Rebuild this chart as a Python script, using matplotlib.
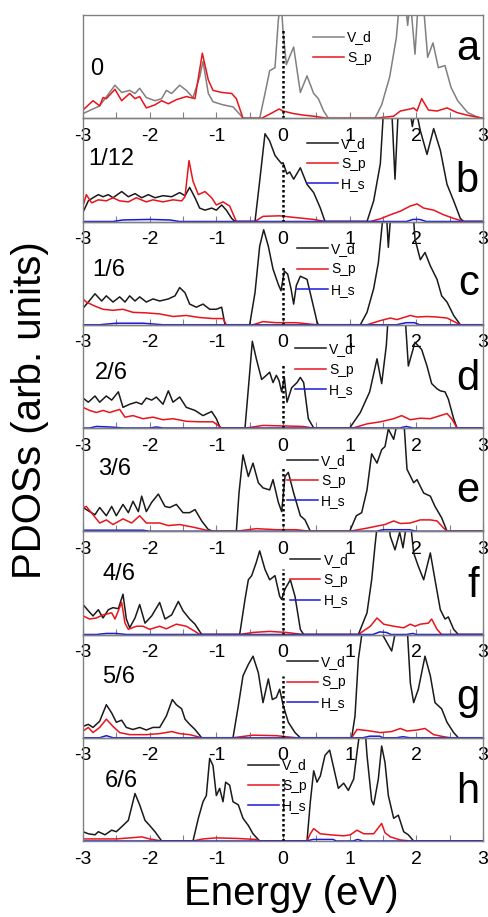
import matplotlib
matplotlib.use("Agg")
import matplotlib.pyplot as plt
from matplotlib.ticker import MultipleLocator

# PDOS: (energy in eV, height in % of panel)
vd_a = [(-3.0, 4.5), (-2.85, 9), (-2.75, 12), (-2.67, 19), (-2.52, 32), (-2.42, 25), (-2.3, 27), (-2.22, 24),
        (-2.15, 29), (-2.05, 20), (-1.92, 17), (-1.82, 19), (-1.75, 27), (-1.67, 24), (-1.55, 32), (-1.45, 27),
        (-1.35, 20), (-1.25, 40), (-1.2, 55), (-1.12, 24), (-1.05, 16), (-0.9, 13), (-0.75, 11), (-0.65, 4), (-0.6, 0),
        (-0.35, 0), (-0.27, 24), (-0.2, 46), (-0.12, 49), (-0.07, 95), (-0.03, 115), (0.0, 85), (0.05, 52),
        (0.16, 69), (0.26, 25), (0.36, 41), (0.46, 24), (0.53, 19), (0.61, 7), (0.68, 0),
        (1.38, 0), (1.48, 13), (1.6, 40), (1.7, 78), (1.75, 115), (1.83, 115), (1.87, 90), (1.91, 115), (1.98, 62),
        (2.03, 115), (2.1, 115), (2.17, 59), (2.25, 73), (2.33, 49), (2.43, 51), (2.52, 30), (2.62, 17),
        (2.77, 5.5), (2.92, 1), (3.0, 0)]
sp_a = [(-3.0, 8), (-2.85, 17), (-2.75, 12), (-2.7, 20), (-2.65, 19), (-2.52, 28), (-2.42, 17), (-2.3, 24),
        (-2.22, 19), (-2.15, 21), (-2.05, 10), (-1.92, 13), (-1.82, 17), (-1.72, 14), (-1.6, 18), (-1.45, 21),
        (-1.32, 19), (-1.21, 63), (-1.12, 37), (-1.05, 27), (-0.92, 25), (-0.77, 24), (-0.7, 19), (-0.6, 0),
        (-0.32, 0), (-0.17, 5), (-0.06, 9), (0.0, 7), (0.16, 4.5), (0.31, 3), (0.46, 2), (0.66, 0),
        (1.38, 0), (1.66, 2), (1.76, 7), (1.91, 9), (1.96, 10), (2.01, 7), (2.08, 19), (2.18, 8), (2.31, 7),
        (2.46, 10), (2.61, 5.5), (2.76, 3), (2.96, 0.5), (3.0, 0)]

vd_b = [(-3.0, 9), (-2.92, 20), (-2.85, 23), (-2.77, 26), (-2.7, 24), (-2.62, 26), (-2.55, 23), (-2.42, 29),
        (-2.32, 24), (-2.22, 27), (-2.12, 23), (-2.02, 26), (-1.92, 23), (-1.8, 25), (-1.67, 24), (-1.55, 28),
        (-1.47, 25), (-1.4, 33), (-1.32, 23), (-1.25, 13), (-1.17, 11), (-1.07, 13), (-1.0, 11), (-0.92, 16),
        (-0.85, 11), (-0.77, 3), (-0.72, 0),
        (-0.42, 0), (-0.35, 39), (-0.27, 85), (-0.2, 78), (-0.12, 64), (-0.06, 59), (-0.02, 56), (0.0, 57),
        (0.06, 46), (0.1, 48), (0.16, 41), (0.26, 52), (0.36, 36), (0.46, 28), (0.56, 13), (0.63, 0),
        (1.26, 0), (1.36, 20), (1.46, 56), (1.51, 110), (1.63, 110), (1.68, 41), (1.73, 110), (1.9, 110),
        (1.94, 92), (1.99, 110), (2.06, 88), (2.16, 65), (2.26, 90), (2.36, 69), (2.46, 36), (2.56, 20),
        (2.66, 3), (2.71, 0), (3.0, 0)]
sp_b = [(-3.0, 15), (-2.95, 26), (-2.87, 18), (-2.77, 21), (-2.65, 20), (-2.55, 23), (-2.45, 20), (-2.32, 19),
        (-2.2, 23), (-2.05, 19), (-1.95, 21), (-1.8, 19), (-1.65, 21), (-1.52, 20), (-1.47, 24), (-1.41, 59),
        (-1.35, 39), (-1.27, 26), (-1.17, 29), (-1.07, 23), (-1.0, 16), (-0.9, 19), (-0.8, 15), (-0.7, 0),
        (-0.42, 0), (-0.3, 5), (-0.05, 5.5), (0.16, 4), (0.46, 2), (0.63, 0),
        (1.31, 0), (1.46, 2.6), (1.61, 6.5), (1.76, 10), (1.91, 15), (2.01, 17), (2.11, 13), (2.26, 11),
        (2.41, 6.5), (2.56, 3), (2.71, 0), (3.0, 0)]
hs_b = [(-3.0, 0), (-2.55, 0), (-2.4, 1.5), (-2.0, 2), (-1.7, 1.5), (-1.55, 0), (1.85, 0), (1.95, 2),
        (2.05, 2), (2.15, 0), (3.0, 0)]

vd_c = [(-3.0, 16), (-2.92, 22), (-2.82, 30), (-2.72, 23), (-2.65, 28), (-2.55, 22), (-2.45, 27), (-2.37, 22),
        (-2.3, 28), (-2.22, 23), (-2.15, 27), (-2.05, 22), (-1.95, 25), (-1.85, 23), (-1.72, 25), (-1.62, 28),
        (-1.55, 36), (-1.47, 31), (-1.4, 20), (-1.3, 17), (-1.2, 20), (-1.1, 15), (-1.0, 15), (-0.92, 17), (-0.87, 0),
        (-0.5, 0), (-0.42, 31), (-0.35, 76), (-0.29, 92), (-0.22, 76), (-0.15, 54), (-0.07, 39), (-0.03, 33),
        (0.02, 52), (0.07, 49), (0.12, 35), (0.16, 20), (0.2, 38), (0.26, 47), (0.36, 44), (0.43, 25),
        (0.51, 3), (0.53, 0),
        (1.16, 0), (1.26, 12), (1.36, 35), (1.43, 60), (1.5, 105), (1.55, 110), (1.58, 75), (1.62, 110),
        (1.95, 110), (1.98, 83), (2.06, 63), (2.13, 70), (2.21, 57), (2.31, 44), (2.38, 28), (2.46, 22),
        (2.56, 9), (2.66, 0), (3.0, 0)]
sp_c = [(-3.0, 25), (-2.95, 22), (-2.82, 18), (-2.7, 15), (-2.55, 14), (-2.4, 15), (-2.25, 12), (-2.05, 11.5),
        (-1.85, 10.5), (-1.65, 8), (-1.45, 9), (-1.25, 7), (-1.05, 6), (-0.9, 6), (-0.85, 0),
        (-0.45, 0), (-0.3, 3), (-0.1, 2), (0.2, 2), (0.5, 0),
        (1.26, 0), (1.46, 4), (1.61, 6.5), (1.71, 5), (1.91, 9), (2.01, 7.5), (2.16, 8), (2.31, 7.5),
        (2.46, 6.5), (2.66, 0), (3.0, 0)]
hs_c = [(-3.0, 0), (-2.75, 0), (-2.5, 1.5), (-2.1, 1.5), (-1.8, 0), (1.7, 0), (1.85, 2), (1.97, 2),
        (2.05, 0), (3.0, 0)]

vd_d = [(-3.0, 29), (-2.92, 25), (-2.82, 31), (-2.75, 25), (-2.65, 31), (-2.57, 27), (-2.47, 35), (-2.4, 20),
        (-2.3, 23), (-2.2, 25), (-2.12, 23), (-2.05, 29), (-1.97, 27), (-1.9, 30), (-1.8, 23), (-1.72, 36),
        (-1.65, 25), (-1.55, 30), (-1.45, 20), (-1.32, 17), (-1.2, 12), (-1.07, 16), (-1.0, 9), (-0.94, 0),
        (-0.57, 0), (-0.52, 38), (-0.46, 84), (-0.4, 67), (-0.32, 47), (-0.25, 51), (-0.2, 54), (-0.15, 44),
        (-0.1, 51), (-0.06, 46), (-0.02, 35), (0.02, 49), (0.06, 25), (0.13, 39), (0.21, 44), (0.26, 49),
        (0.31, 44), (0.38, 9), (0.46, 0),
        (1.0, 0), (1.16, 15), (1.3, 35), (1.41, 67), (1.48, 43), (1.55, 80), (1.58, 110), (1.83, 110),
        (1.88, 60), (1.98, 83), (2.08, 76), (2.16, 60), (2.23, 43), (2.31, 38), (2.36, 36), (2.43, 35),
        (2.48, 28), (2.56, 9), (2.61, 0), (3.0, 0)]
sp_d = [(-3.0, 20), (-2.9, 17), (-2.8, 15), (-2.7, 17), (-2.6, 15), (-2.45, 18), (-2.37, 10.5), (-2.25, 12),
        (-2.1, 9), (-1.95, 10.5), (-1.8, 8), (-1.65, 9), (-1.45, 6.5), (-1.25, 6), (-1.05, 6), (-0.92, 0),
        (-0.55, 0), (-0.3, 2.5), (0.0, 2), (0.3, 1.5), (0.45, 0),
        (1.05, 0), (1.26, 4), (1.46, 6), (1.66, 9), (1.78, 12), (1.91, 8), (2.06, 9.5), (2.21, 9), (2.36, 12),
        (2.46, 14), (2.53, 9), (2.61, 0), (3.0, 0)]
hs_d = [(-3.0, 0), (-2.9, 0), (-2.8, 1.5), (-2.6, 1), (-2.4, 0), (-2.0, 0), (-1.9, 1), (-1.8, 0), (1.75, 0),
        (1.85, 1.5), (1.95, 0), (3.0, 0)]

vd_e = [(-3.0, 23), (-2.9, 19), (-2.82, 16), (-2.75, 23), (-2.65, 15), (-2.57, 24), (-2.5, 15), (-2.4, 26),
        (-2.32, 18), (-2.25, 29), (-2.17, 19), (-2.12, 34), (-2.05, 19), (-1.97, 28), (-1.87, 36), (-1.77, 24),
        (-1.7, 23), (-1.6, 26), (-1.5, 18), (-1.4, 18), (-1.32, 21), (-1.22, 10), (-1.12, 1.6), (-1.05, 0),
        (-0.7, 0), (-0.66, 37), (-0.6, 74), (-0.52, 53), (-0.45, 66), (-0.37, 47), (-0.3, 42), (-0.2, 40),
        (-0.15, 50), (-0.07, 28), (-0.02, 19), (0.03, 53), (0.08, 57), (0.16, 37), (0.26, 15), (0.33, 11), (0.41, 0),
        (1.0, 0), (1.1, 15), (1.18, 18), (1.26, 40), (1.33, 75), (1.41, 66), (1.48, 79), (1.53, 82), (1.58, 99),
        (1.66, 89), (1.73, 110), (1.81, 110), (1.86, 60), (1.96, 47), (2.01, 50), (2.11, 37), (2.21, 34),
        (2.28, 24), (2.38, 13), (2.46, 0), (3.0, 0)]
sp_e = [(-3.0, 23), (-2.95, 24), (-2.85, 16), (-2.75, 8), (-2.65, 11), (-2.55, 6.5), (-2.4, 12), (-2.27, 8),
        (-2.15, 15), (-2.05, 8), (-1.85, 8), (-1.72, 5.5), (-1.55, 6.5), (-1.35, 4), (-1.15, 1), (-1.07, 0),
        (-0.7, 0), (-0.4, 2.5), (-0.1, 1.5), (0.2, 1.5), (0.4, 0),
        (1.0, 0), (1.26, 3), (1.41, 5), (1.53, 6.5), (1.66, 10), (1.76, 7.5), (1.91, 8), (2.06, 11), (2.21, 11),
        (2.31, 10), (2.41, 3), (2.46, 0), (3.0, 0)]
hs_e = [(-3.0, 1), (-2.5, 1), (-2.1, 1), (-2.0, 0), (1.4, 0), (1.5, 1.5), (1.9, 1.5), (2.0, 0), (3.0, 0)]

vd_f = [(-3.0, 29), (-2.92, 23), (-2.85, 18), (-2.77, 24), (-2.7, 16), (-2.62, 24), (-2.55, 26), (-2.47, 25),
        (-2.4, 39), (-2.35, 15), (-2.3, 6.5), (-2.22, 16), (-2.15, 29), (-2.07, 11), (-1.97, 18), (-1.85, 31),
        (-1.77, 15), (-1.67, 19), (-1.57, 32), (-1.5, 23), (-1.4, 15), (-1.32, 10), (-1.22, 0),
        (-0.65, 0), (-0.57, 34), (-0.52, 53), (-0.47, 57), (-0.4, 70), (-0.35, 81), (-0.27, 63), (-0.2, 53),
        (-0.12, 57), (-0.05, 37), (-0.02, 34), (0.03, 44), (0.11, 53), (0.18, 37), (0.26, 5), (0.31, 0),
        (1.13, 0), (1.26, 21), (1.33, 53), (1.38, 86), (1.42, 110), (1.58, 110), (1.61, 95), (1.68, 82),
        (1.75, 99), (1.8, 84), (1.86, 110), (1.91, 110), (1.96, 79), (2.03, 66), (2.11, 53), (2.21, 79),
        (2.28, 53), (2.36, 24), (2.43, 15), (2.48, 17), (2.56, 5), (2.63, 0), (3.0, 0)]
sp_f = [(-3.0, 18), (-2.9, 15), (-2.8, 16), (-2.7, 19), (-2.57, 21), (-2.52, 15), (-2.42, 31), (-2.37, 11),
        (-2.32, 5), (-2.2, 8), (-2.1, 8), (-2.0, 5), (-1.85, 8), (-1.75, 5.5), (-1.6, 10), (-1.45, 8),
        (-1.32, 3), (-1.25, 0),
        (-0.65, 0), (-0.45, 2), (-0.2, 3), (0.05, 2), (0.3, 0),
        (1.13, 0), (1.31, 8), (1.41, 16), (1.51, 10), (1.66, 8), (1.81, 6.5), (1.91, 10), (1.98, 8), (2.06, 10),
        (2.18, 11), (2.23, 15), (2.31, 5), (2.38, 0), (3.0, 0)]
hs_f = [(-3.0, 0), (-2.8, 0), (-2.65, 1), (-2.5, 1), (-2.35, 0), (1.35, 0), (1.45, 2.5), (1.55, 2), (1.62, 0),
        (1.85, 0), (1.95, 1), (2.0, 0), (3.0, 0)]

vd_g = [(-3.0, 11), (-2.92, 13), (-2.85, 10), (-2.75, 16), (-2.65, 32), (-2.57, 24), (-2.5, 15), (-2.42, 17),
        (-2.35, 10), (-2.25, 8), (-2.15, 10), (-2.05, 7.5), (-1.95, 10), (-1.85, 10), (-1.75, 21), (-1.66, 37),
        (-1.6, 32), (-1.52, 28), (-1.47, 18), (-1.4, 13), (-1.32, 8), (-1.22, 0),
        (-0.75, 0), (-0.67, 31), (-0.6, 60), (-0.52, 71), (-0.45, 79), (-0.37, 63), (-0.3, 34), (-0.22, 57),
        (-0.16, 37), (-0.1, 39), (-0.05, 47), (0.0, 32), (0.08, 15), (0.18, 5), (0.26, 0),
        (1.03, 0), (1.08, 21), (1.13, 76), (1.18, 99), (1.21, 110), (1.43, 110), (1.5, 99), (1.63, 84),
        (1.71, 110), (1.86, 110), (1.91, 53), (1.96, 34), (2.03, 47), (2.13, 79), (2.21, 60), (2.28, 34),
        (2.38, 28), (2.46, 15), (2.56, 5), (2.63, 0), (3.0, 0)]
sp_g = [(-3.0, 6.5), (-2.92, 10), (-2.85, 5), (-2.75, 10), (-2.65, 18), (-2.55, 11), (-2.45, 5), (-2.3, 3),
        (-2.05, 3), (-1.85, 4), (-1.67, 6), (-1.55, 4), (-1.4, 3), (-1.22, 0),
        (-0.75, 0), (-0.45, 2.5), (-0.1, 2), (0.2, 0),
        (1.03, 0), (1.11, 8), (1.26, 7), (1.46, 5), (1.63, 6), (1.76, 9), (1.86, 6.5), (2.01, 7.5), (2.13, 9),
        (2.26, 3), (2.41, 1), (2.51, 0), (3.0, 0)]
hs_g = [(-3.0, 0), (-2.75, 0), (-2.65, 2), (-2.55, 0), (1.2, 0), (1.3, 1.5), (1.45, 1.5), (1.5, 0), (1.7, 0),
        (1.8, 1), (1.9, 0), (3.0, 0)]

vd_h = [(-3.0, 9), (-2.92, 7), (-2.82, 6), (-2.77, 9), (-2.67, 6), (-2.57, 10.5), (-2.5, 9), (-2.4, 15),
        (-2.32, 20), (-2.22, 46), (-2.15, 35), (-2.07, 20), (-2.0, 15), (-1.92, 9), (-1.82, 0),
        (-1.35, 0), (-1.27, 22), (-1.2, 38), (-1.15, 44), (-1.1, 80), (-1.05, 73), (-1.0, 44), (-0.95, 51),
        (-0.9, 38), (-0.86, 57), (-0.8, 54), (-0.75, 38), (-0.67, 35), (-0.6, 22), (-0.52, 15), (-0.45, 7), (-0.35, 0),
        (0.36, 0), (0.41, 38), (0.46, 68), (0.51, 57), (0.56, 63), (0.63, 83), (0.7, 88), (0.76, 71), (0.83, 51),
        (0.91, 56), (0.98, 49), (1.06, 60), (1.11, 86), (1.16, 110), (1.23, 110), (1.26, 83), (1.33, 39),
        (1.36, 35), (1.43, 60), (1.48, 92), (1.53, 76), (1.58, 44), (1.66, 22), (1.73, 25), (1.81, 9),
        (1.88, 6), (1.96, 0), (3.0, 0)]
sp_h = [(-3.0, 2), (-2.5, 2), (-2.3, 3), (-2.12, 4), (-2.0, 2), (-1.82, 0),
        (-1.35, 0), (-1.2, 2), (-1.0, 3), (-0.7, 2.5), (-0.4, 1.5), (-0.35, 0),
        (0.36, 0), (0.41, 7), (0.46, 12), (0.56, 7), (0.71, 6), (0.91, 5), (1.01, 6), (1.11, 10.5), (1.21, 7),
        (1.36, 7), (1.48, 17), (1.53, 8), (1.61, 4), (1.76, 1), (1.91, 0), (3.0, 0)]
hs_h = [(-3.0, 0), (0.35, 0), (0.45, 1.5), (0.75, 1.5), (0.8, 0), (1.05, 0), (1.12, 1.5), (1.2, 0), (3.0, 0)]

letters = ["a", "b", "c", "d", "e", "f", "g", "h"]
fractions = ["0", "1/12", "1/6", "2/6", "3/6", "4/6", "5/6", "6/6"]
fermi_top = [85, 58, 56, 63, 63, 63, 60, 62]

vd_all = [vd_a, vd_b, vd_c, vd_d, vd_e, vd_f, vd_g, vd_h]
sp_all = [sp_a, sp_b, sp_c, sp_d, sp_e, sp_f, sp_g, sp_h]
hs_all = [None, hs_b, hs_c, hs_d, hs_e, hs_f, hs_g, hs_h]

# text / legend placement (axes fraction)
frac_pos = [(0.018, 0.42), (0.013, 0.55), (0.023, 0.47), (0.03, 0.47), (0.038, 0.54), (0.048, 0.53),
            (0.048, 0.53), (0.055, 0.52)]
letter_y = [0.56, 0.29, 0.29, 0.365, 0.28, 0.36, 0.28, 0.365]
leg_pos = [(0.575, 0.85), (0.56, 0.82), (0.535, 0.80), (0.53, 0.83), (0.51, 0.75), (0.517, 0.79),
           (0.51, 0.80), (0.4125, 0.80)]

plt.rcParams["font.family"] = ["Liberation Sans", "DejaVu Sans"]
plt.rcParams["axes.unicode_minus"] = False

fig = plt.figure(figsize=(4.89, 9.17), dpi=100)
W, H = 489.0, 917.0
top_px, h_px = 15.0, 103.25
frame = "#808080"

for i in range(8):
    bottom = 1 - (top_px + (i + 1) * h_px) / H
    ax = fig.add_axes([83 / W, bottom, 400 / W, h_px / H])
    ax.patch.set_visible(False)

    vd = vd_all[i]
    sp = sp_all[i]
    ax.plot([p[0] for p in vd], [p[1] for p in vd], color="#808080" if i == 0 else "#1a1a1a",
            lw=1.1, label="V_d")
    ax.plot([p[0] for p in sp], [p[1] for p in sp], color="#e8141c", lw=1.1, label="S_p")
    if hs_all[i] is not None:
        hs = hs_all[i]
        ax.plot([p[0] for p in hs], [p[1] for p in hs], color="#1a1adc", lw=1.1, label="H_s")

    ax.plot([0, 0], [0, fermi_top[i]], color="black", lw=1.8, linestyle=(0, (1, 1)))

    ax.set_xlim(-3, 3)
    ax.set_ylim(0, 100)
    ax.set_yticks([])
    ax.xaxis.set_major_locator(MultipleLocator(1))
    ax.xaxis.set_minor_locator(MultipleLocator(0.5))
    ax.tick_params(axis="x", which="both", direction="in", color=frame, top=False, width=0.8)
    ax.tick_params(axis="x", which="major", length=4, labelsize=14, pad=7)
    ax.tick_params(axis="x", which="minor", length=4)
    for s in ax.spines.values():
        s.set_color(frame)
        s.set_linewidth(1.0)

    ax.text(frac_pos[i][0], frac_pos[i][1], fractions[i], transform=ax.transAxes, fontsize=17,
            ha="left", va="baseline")
    ax.text(0.99, letter_y[i], letters[i], transform=ax.transAxes, fontsize=30,
            ha="right", va="baseline")

    ax.legend(loc="upper left", bbox_to_anchor=leg_pos[i], frameon=False, fontsize=10,
              handlelength=2.2, handletextpad=0.25, labelspacing=0.45, borderpad=0, borderaxespad=0)

fig.text(0.061, 0.553, "PDOSs (arb. units)", rotation=90, fontsize=29, ha="center", va="center")
fig.text(0.595, 0.013, "Energy (eV)", fontsize=29, ha="center", va="baseline")

fig.savefig("out.png", dpi=100)
